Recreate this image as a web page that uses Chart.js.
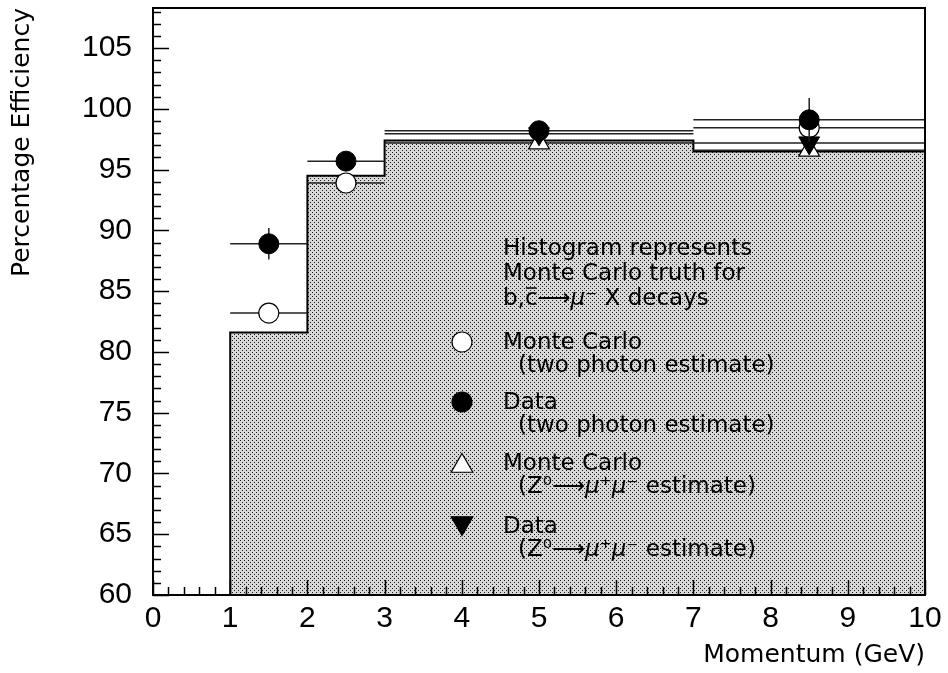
<!DOCTYPE html>
<html>
<head>
<meta charset="utf-8">
<script src="https://cdn.jsdelivr.net/npm/chart.js@4.4.1/dist/chart.umd.min.js"></script>
<style>
  html, body { margin: 0; padding: 0; background: #fff; }
  #wrap { width: 948px; height: 673px; }
</style>
</head>
<body>
<div id="wrap"><canvas id="effChart"></canvas></div>
<script>
// --- Data ---
// Histogram: Monte Carlo truth, bin edges (GeV) and contents (%)
const binEdges = [1, 2, 3, 7, 10];
const truthEff = [81.6, 94.5, 97.4, 96.5];

// Monte Carlo, two photon estimate (open circles)
const mcTwoPhotonX = [1.5, 2.5, 8.5];
const mcTwoPhotonY = [83.2, 93.9, 98.45];
const mcTwoPhotonXErr = [0.5, 0.5, 1.5];
const mcTwoPhotonYErr = [0.3, 0.3, 0.3];

// Data, two photon estimate (filled circles)
const dataTwoPhotonX = [1.5, 2.5, 5, 8.5];
const dataTwoPhotonY = [88.9, 95.7, 98.2, 99.1];
const dataTwoPhotonXErr = [0.5, 0.5, 2, 1.5];
const dataTwoPhotonYErr = [1.3, 0.6, 0.6, 1.8];

// Monte Carlo, Z0 -> mu mu estimate (open triangles)
const mcZX = [5, 8.5];
const mcZY = [97.2, 96.6];
const mcZXErr = [2, 1.5];
const mcZYErr = [0.3, 0.3];

// Data, Z0 -> mu mu estimate (filled down triangles)
const dataZX = [5, 8.5];
const dataZY = [97.95, 97.2];
const dataZXErr = [2, 1.5];
const dataZYErr = [0.4, 0.4];

// Axes
const xTickValues = [0, 1, 2, 3, 4, 5, 6, 7, 8, 9, 10];
const yTickValues = [60, 65, 70, 75, 80, 85, 90, 95, 100, 105];
const xMin = 0, xMax = 10, yMin = 60, yMax = 108.3;

const TITLE_FONT = '"DejaVu Sans", sans-serif';
const TICK_FONT = '"Liberation Sans", Arial, sans-serif';

// --- Helpers ---
function toPoints(xs, ys) {
    return xs.map((x, i) => ({ x: x, y: ys[i] }));
}

function histogramPoints(edges, vals) {
    // step outline, starting on the axis floor at the first edge
    const pts = [{ x: edges[0], y: yMin }];
    vals.forEach((v, i) => pts.push({ x: edges[i], y: v }));
    pts.push({ x: edges[edges.length - 1], y: vals[vals.length - 1] });
    return pts;
}

function makeStipple() {
    const c = document.createElement('canvas');
    c.width = 4; c.height = 4;
    const g = c.getContext('2d');
    g.fillStyle = '#d8d8d8';
    g.fillRect(0, 0, 4, 4);
    g.fillStyle = '#1a1a1a';
    g.fillRect(0, 0, 1, 1);
    g.fillRect(2, 2, 1, 1);
    return g.createPattern(c, 'repeat');
}

// --- Plugins ---
// error bars drawn just under each dataset's markers
const errorBars = {
    id: 'errorBars',
    beforeDatasetDraw(chart, args) {
        const ds = chart.data.datasets[args.index];
        if (!ds.xErr) return;
        const xs = chart.scales.x, ys = chart.scales.y;
        const ctx = chart.ctx;
        ctx.save();
        ctx.strokeStyle = '#222';
        ctx.lineWidth = 1.5;
        ds.data.forEach((p, i) => {
            const px = xs.getPixelForValue(p.x);
            const py = ys.getPixelForValue(p.y);
            ctx.beginPath();
            ctx.moveTo(xs.getPixelForValue(p.x - ds.xErr[i]), py);
            ctx.lineTo(xs.getPixelForValue(p.x + ds.xErr[i]), py);
            ctx.moveTo(px, ys.getPixelForValue(p.y - ds.yErr[i]));
            ctx.lineTo(px, ys.getPixelForValue(p.y + ds.yErr[i]));
            ctx.stroke();
        });
        ctx.restore();
    }
};

// frame and inward tick marks
const frameTicks = {
    id: 'frameTicks',
    afterDraw(chart) {
        const ctx = chart.ctx;
        const a = chart.chartArea;
        const xs = chart.scales.x, ys = chart.scales.y;
        ctx.save();
        ctx.strokeStyle = '#000';
        ctx.lineWidth = 1.5;
        ctx.beginPath();
        for (let v = yMin; v <= yMax + 1e-6; v += 1) {
            const py = Math.round(ys.getPixelForValue(v)) + 0.5;
            const len = (Math.round(v) % 5 === 0) ? 16 : 8;
            ctx.moveTo(a.left, py);
            ctx.lineTo(a.left + len, py);
        }
        for (let k = 0; k <= 50; k++) {
            const v = k * 0.2;
            const px = Math.round(xs.getPixelForValue(v)) + 0.5;
            const len = (k % 5 === 0) ? 15 : 8;
            ctx.moveTo(px, a.bottom);
            ctx.lineTo(px, a.bottom - len);
        }
        ctx.stroke();
        ctx.lineWidth = 2;
        ctx.strokeRect(a.left, a.top, a.right - a.left, a.bottom - a.top);
        ctx.restore();
    }
};

// text block and legend symbols inside the plot
const legendText = {
    id: 'legendText',
    afterDatasetsDraw(chart) {
        const ctx = chart.ctx;
        const font = '23px ' + TITLE_FONT;
        const italic = 'italic 23px ' + TITLE_FONT;
        ctx.save();
        ctx.fillStyle = '#000';
        ctx.strokeStyle = '#000';
        ctx.textBaseline = 'alphabetic';
        ctx.textAlign = 'left';

        function run(x, y, parts) {
            parts.forEach(p => {
                ctx.font = p.i ? italic : font;
                const w = ctx.measureText(p.t).width;
                ctx.fillText(p.t, x, y);
                if (p.over) {
                    ctx.lineWidth = 1.5;
                    ctx.beginPath();
                    ctx.moveTo(x + 1, y - 17);
                    ctx.lineTo(x + w - 1, y - 17);
                    ctx.stroke();
                }
                x += w;
            });
        }

        const tx = 503;
        run(tx, 255, [{ t: 'Histogram represents' }]);
        run(tx, 280, [{ t: 'Monte Carlo truth for' }]);
        run(tx, 305, [{ t: 'b,' }, { t: 'c', over: true }, { t: '\u27F6' }, { t: '\u03BC', i: true }, { t: '\u207B X decays' }]);

        const zParts = [{ t: '(Z\u2070' }, { t: '\u27F6' }, { t: '\u03BC', i: true }, { t: '\u207A' }, { t: '\u03BC', i: true }, { t: '\u207B estimate)' }];
        run(tx, 349, [{ t: 'Monte Carlo' }]);
        run(tx + 15, 372, [{ t: '(two photon estimate)' }]);
        run(tx, 409, [{ t: 'Data' }]);
        run(tx + 15, 432, [{ t: '(two photon estimate)' }]);
        run(tx, 470, [{ t: 'Monte Carlo' }]);
        run(tx + 15, 493, zParts);
        run(tx, 533, [{ t: 'Data' }]);
        run(tx + 15, 556, zParts);

        const sx = 462;
        const sym = [
            { y: 342, style: 'circle', r: 10, fill: '#fff', rot: 0 },
            { y: 402, style: 'circle', r: 10, fill: '#000', rot: 0 },
            { y: 466, style: 'triangle', r: 12.5, fill: '#fff', rot: 0 },
            { y: 523, style: 'triangle', r: 12.5, fill: '#000', rot: 180 }
        ];
        sym.forEach(s => {
            ctx.fillStyle = s.fill;
            ctx.strokeStyle = '#000';
            ctx.lineWidth = 1.2;
            Chart.helpers.drawPoint(ctx, { pointStyle: s.style, radius: s.r, rotation: s.rot, borderWidth: 1.2 }, sx, s.y);
        });
        ctx.restore();
    }
};

// --- Chart ---
const ctx = document.getElementById('effChart').getContext('2d');
const stipple = makeStipple();

new Chart(ctx, {
    type: 'scatter',
    data: {
        datasets: [
            {
                label: 'Data (two photon estimate)',
                data: toPoints(dataTwoPhotonX, dataTwoPhotonY),
                xErr: dataTwoPhotonXErr, yErr: dataTwoPhotonYErr,
                pointStyle: 'circle', pointRadius: 10,
                backgroundColor: '#000', borderColor: '#000', borderWidth: 1
            },
            {
                label: 'Data (Z0 estimate)',
                data: toPoints(dataZX, dataZY),
                xErr: dataZXErr, yErr: dataZYErr,
                pointStyle: 'triangle', pointRotation: 180, pointRadius: 12,
                backgroundColor: '#000', borderColor: '#000', borderWidth: 1
            },
            {
                label: 'Monte Carlo (two photon estimate)',
                data: toPoints(mcTwoPhotonX, mcTwoPhotonY),
                xErr: mcTwoPhotonXErr, yErr: mcTwoPhotonYErr,
                pointStyle: 'circle', pointRadius: 10,
                backgroundColor: '#fff', borderColor: '#000', borderWidth: 1.2
            },
            {
                label: 'Monte Carlo (Z0 estimate)',
                data: toPoints(mcZX, mcZY),
                xErr: mcZXErr, yErr: mcZYErr,
                pointStyle: 'triangle', pointRadius: 12,
                backgroundColor: '#fff', borderColor: '#000', borderWidth: 1.2
            },
            {
                type: 'line',
                label: 'Monte Carlo truth',
                data: histogramPoints(binEdges, truthEff),
                stepped: true,
                borderColor: '#000',
                borderWidth: 2,
                backgroundColor: stipple,
                fill: 'start',
                pointRadius: 0,
                tension: 0
            }
        ]
    },
    options: {
        responsive: true,
        maintainAspectRatio: false,
        animation: false,
        events: [],
        layout: { autoPadding: false, padding: { left: 0, top: 8, right: 23, bottom: 0 } },
        plugins: {
            legend: { display: false },
            tooltip: { enabled: false }
        },
        scales: {
            x: {
                type: 'linear',
                min: xMin, max: xMax,
                grid: { display: false, drawTicks: false },
                border: { display: false },
                afterBuildTicks: s => { s.ticks = xTickValues.map(v => ({ value: v })); },
                afterFit: s => { s.height = 78; s.paddingLeft = 0; s.paddingRight = 0; },
                ticks: {
                    color: '#000',
                    padding: 6,
                    maxRotation: 0,
                    font: { family: TICK_FONT, size: 30 },
                    callback: v => String(v)
                },
                title: {
                    display: true,
                    text: 'Momentum (GeV)',
                    align: 'end',
                    color: '#000',
                    font: { family: TITLE_FONT, size: 25 },
                    padding: { top: 0, bottom: 3 }
                }
            },
            y: {
                type: 'linear',
                min: yMin, max: yMax,
                grid: { display: false, drawTicks: false },
                border: { display: false },
                afterBuildTicks: s => { s.ticks = yTickValues.map(v => ({ value: v })); },
                afterFit: s => { s.width = 153; s.paddingTop = 0; s.paddingBottom = 0; },
                ticks: {
                    color: '#000',
                    padding: 21,
                    font: { family: TICK_FONT, size: 30 },
                    callback: v => String(v)
                },
                title: {
                    display: true,
                    text: 'Percentage Efficiency',
                    align: 'end',
                    color: '#000',
                    font: { family: TITLE_FONT, size: 25 },
                    padding: { top: 7, bottom: 0 }
                }
            }
        }
    },
    plugins: [errorBars, frameTicks, legendText]
});
</script>
</body>
</html>
